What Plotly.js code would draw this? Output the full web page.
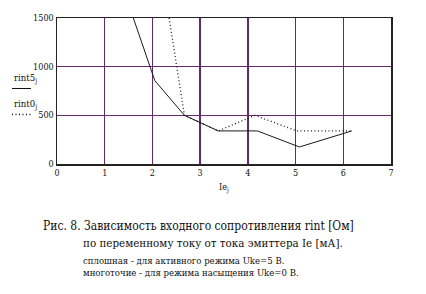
<!DOCTYPE html>
<html>
<head>
<meta charset="utf-8">
<script src="https://cdn.plot.ly/plotly-3.0.1.min.js"></script>
<style>html,body{margin:0;padding:0;background:#fff;}#chart{width:426px;height:294px;}</style>
</head>
<body>
<div id="chart"></div>
<script>
// Data
var ie5 = [1.6, 2.05, 2.67, 3.38, 4.2, 5.08, 6.18];
var rint5 = [1500, 857, 500, 340, 340, 175, 340];
var ie0 = [2.35, 2.67, 3.38, 4.15, 5.02, 6.18];
var rint0 = [1500, 500, 340, 500, 340, 340];
var xTicks = [0, 1, 2, 3, 4, 5, 6, 7];
var yTicks = [0, 500, 1000, 1500];

var W = 426, H = 294, L = 57, R = 35, T = 18, B = 130;
var pw = W - L - R, ph = H - T - B;
function px(x){ return (x - L) / pw; }
function py(y){ return (H - B - y) / ph; }

var serif = 'DejaVu Serif Condensed, DejaVu Serif';

var traces = [
  {x: ie5, y: rint5, mode: 'lines', line: {color: '#1a1a1a', width: 1}, showlegend: false},
  {x: ie0, y: rint0, mode: 'lines', line: {color: '#1a1a1a', width: 1.3, dash: '1px,2.5px'}, showlegend: false}
];

var ann = [
  {text: 'rint5<sub>j</sub>', x: px(12), y: py(78), xanchor: 'left', yanchor: 'middle'},
  {text: 'rint0<sub>j</sub>', x: px(12), y: py(104), xanchor: 'left', yanchor: 'middle'},
  {text: 'Рис. 8. Зависимость входного сопротивления rint [Ом]', x: px(41), y: py(226), xanchor: 'left', yanchor: 'middle', font: {size: 12}},
  {text: 'по переменному току от тока эмиттера Ie [мА].', x: px(81), y: py(243), xanchor: 'left', yanchor: 'middle', font: {size: 11.5}},
  {text: 'сплошная - для активного режима Uke=5 В.', x: px(81), y: py(260.5), xanchor: 'left', yanchor: 'middle', font: {size: 9.5}},
  {text: 'многоточие - для режима насыщения Uke=0 В.', x: px(81), y: py(272), xanchor: 'left', yanchor: 'middle', font: {size: 9.5}}
].map(function(a){
  a.xref = 'paper'; a.yref = 'paper'; a.showarrow = false;
  a.font = Object.assign({family: serif, size: 9.5, color: '#111'}, a.font || {});
  return a;
});

var shapes = [
  {type: 'line', xref: 'paper', yref: 'paper', x0: px(12), x1: px(31), y0: py(88.5), y1: py(88.5), line: {color: '#111', width: 1}},
  {type: 'line', xref: 'paper', yref: 'paper', x0: px(12), x1: px(31), y0: py(114.5), y1: py(114.5), line: {color: '#111', width: 1.3, dash: '1px,2.5px'}}
];

var layout = {
  width: W, height: H,
  margin: {l: L, r: R, t: T, b: B, pad: 0},
  paper_bgcolor: '#fff', plot_bgcolor: '#fff',
  showlegend: false,
  font: {family: serif, size: 9, color: '#111'},
  xaxis: {
    range: [0, 7], tickvals: xTicks, ticktext: xTicks.map(String),
    showgrid: true, gridcolor: '#662a6a', gridwidth: 1.4,
    zeroline: false, showline: true, linecolor: '#222', linewidth: 1.5, mirror: true,
    ticks: '', ticklen: 0, tickfont: {family: serif, size: 9, color: '#111'},
    title: {text: 'Ie<sub>j</sub>', font: {family: serif, size: 9, color: '#111'}, standoff: 6},
    fixedrange: true
  },
  yaxis: {
    range: [0, 1500], tickvals: yTicks, ticktext: yTicks.map(String),
    showgrid: true, gridcolor: '#662a6a', gridwidth: 1.4,
    zeroline: false, showline: true, linecolor: '#222', linewidth: 1.5, mirror: true,
    ticks: '', ticklen: 0, tickfont: {family: serif, size: 9, color: '#111'},
    fixedrange: true
  },
  annotations: ann,
  shapes: shapes
};

Plotly.newPlot('chart', traces, layout, {staticPlot: true, displayModeBar: false});
</script>
</body>
</html>
